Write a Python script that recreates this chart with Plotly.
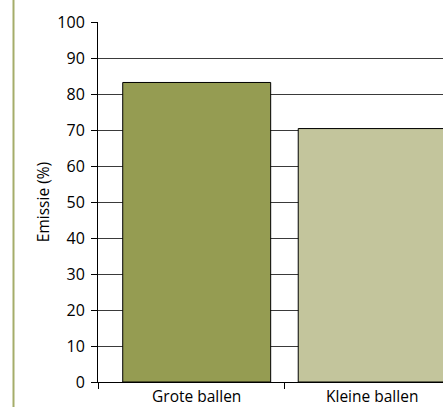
import plotly.graph_objects as go

# Data
categories = ["Grote ballen", "Kleine ballen"]
emissie = [83.2, 70.4]
bar_colors = ["#959c52", "#c3c59c"]
y_ticks = [0, 10, 20, 30, 40, 50, 60, 70, 80, 90, 100]

x_pos = list(range(len(categories)))

fig = go.Figure(
    go.Bar(
        x=x_pos,
        y=emissie,
        width=0.843,
        marker=dict(color=bar_colors, line=dict(color="#000000", width=1)),
        hoverinfo="skip",
    )
)

fig.update_layout(
    width=443,
    height=407,
    margin=dict(l=98, r=0, t=22, b=25),
    paper_bgcolor="#ffffff",
    plot_bgcolor="#ffffff",
    showlegend=False,
    font=dict(family="Open Sans", color="#000000"),
)

fig.update_xaxes(
    automargin=False,
    range=[-0.5624, 1.4034],
    tickmode="array",
    tickvals=x_pos,
    ticktext=categories,
    ticks="",
    tickfont=dict(size=15.5, family="Open Sans"),
    ticklabelstandoff=0,
    showline=True,
    linecolor="#000000",
    linewidth=1,
    showgrid=False,
    zeroline=False,
    minor=dict(tickmode="array", tickvals=[-0.5624, 0.5], ticks="outside",
               ticklen=6, tickcolor="#000000", tickwidth=1, showgrid=False),
)

fig.update_yaxes(
    automargin=False,
    range=[0, 100],
    tickmode="array",
    tickvals=y_ticks,
    ticks="outside",
    ticklen=6,
    tickcolor="#000000",
    tickfont=dict(size=16, family="Open Sans"),
    ticklabelstandoff=3,
    showline=True,
    linecolor="#000000",
    linewidth=1,
    showgrid=True,
    gridcolor="#3a3a3a",
    gridwidth=1,
    zeroline=False,
    title=dict(text="Emissie (%)", font=dict(size=15.5, family="Open Sans"), standoff=3),
)

# Olive page rule along the left edge
fig.add_shape(
    type="line",
    xref="paper", yref="paper",
    xsizemode="pixel", ysizemode="pixel",
    xanchor=0, yanchor=0,
    x0=-84.5, x1=-84.5, y0=-30, y1=400,
    line=dict(color="#a5ad6a", width=2),
    layer="above",
)

fig.write_html("out.html")
